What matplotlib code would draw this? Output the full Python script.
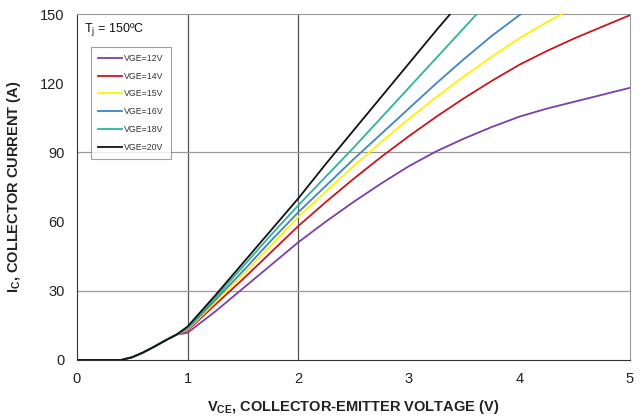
import matplotlib
matplotlib.use("Agg")
import matplotlib.pyplot as plt

plt.rcParams["font.family"] = ["Liberation Sans", "DejaVu Sans"]

# V_CE grid (V) shared by all curves
VCE = [0, 0.4, 0.5, 0.6, 0.7, 0.8, 0.9, 1.0, 1.25, 1.5, 1.75, 2.0, 2.25, 2.5,
       2.75, 3.0, 3.25, 3.5, 3.75, 4.0, 4.25, 4.5, 4.75, 5.0]
KNEE = [0, 0, 1.2, 3.3, 5.8, 8.5, 11.0]  # common part below 1 V

# collector current (A) per gate voltage, from 1.0 V on
IC_12 = [11.8, 21, 31, 41, 51, 60, 68.5, 76.5, 84, 90.5, 96, 101, 105.5, 109, 112, 115, 118]
IC_14 = [12.8, 24, 35, 46.5, 58, 68.5, 78.5, 88, 97, 105.5, 113.5, 121, 128, 134, 139.5, 144.5, 149.5]
IC_15 = [13.2, 25, 37, 49.5, 62, 73, 84, 94.5, 104.5, 114, 123, 131.5, 139.5, 146.5, 153]
IC_16 = [13.6, 26, 38.5, 51.5, 64, 75.5, 87, 98, 109, 120, 130.5, 140.5, 149.5, 158]
IC_18 = [14.0, 27, 40.5, 54, 67, 79.5, 92, 105, 118, 131, 144, 157]
IC_20 = [14.5, 28, 42, 56, 70, 85, 99.5, 114, 128.5, 143, 157]

LABELS = ["VGE=12V", "VGE=14V", "VGE=15V", "VGE=16V", "VGE=18V", "VGE=20V"]
COLORS = ["#7B3FA8", "#C8161D", "#FFF200", "#3D85C6", "#2DB39A", "#111111"]
SERIES = [IC_12, IC_14, IC_15, IC_16, IC_18, IC_20]

fig = plt.figure(figsize=(6.41, 4.18), dpi=100)
ax = fig.add_axes([0.1201, 0.1388, 0.8627, 0.8277])

# partial gridlines as in the datasheet
for xv in (1, 2):
    ax.axvline(xv, color="#555555", lw=0.9, zorder=1)
for yv in (30, 90):
    ax.axhline(yv, color="#999999", lw=0.9, zorder=1)

for ic, lab, col in zip(SERIES, LABELS, COLORS):
    y = KNEE + ic
    x = VCE[:len(y)]
    ax.plot(x, y, color=col, lw=1.3, label=lab, zorder=3)

ax.set_xlim(0, 5)
ax.set_ylim(0, 150)
ax.set_xticks([0, 1, 2, 3, 4, 5])
ax.set_yticks([0, 30, 60, 90, 120, 150])
ax.tick_params(length=0, labelsize=10.5, colors="#222222", pad=9)
for s in ("left", "bottom"):
    ax.spines[s].set_color("#333333")
for s in ("right", "top"):
    ax.spines[s].set_color("#999999")

ax.set_xlabel(r"V$_\mathregular{CE}$, COLLECTOR-EMITTER VOLTAGE (V)",
              fontsize=10.5, fontweight="bold", color="#222222", labelpad=8)
ax.set_ylabel(r"I$_\mathregular{C}$, COLLECTOR CURRENT (A)",
              fontsize=10.5, fontweight="bold", color="#222222", labelpad=12)

ax.text(0.012, 0.955, r"T$_\mathregular{j}$ = 150ºC", transform=ax.transAxes,
        fontsize=9, ha="left", va="center", color="#111111")

leg = ax.legend(loc="upper left", bbox_to_anchor=(0.025, 0.905), borderaxespad=0,
                fontsize=6.3, frameon=True, fancybox=False, handlelength=2.8,
                handletextpad=0.2, labelspacing=1.0, borderpad=0.8,
                edgecolor="#888888")
leg.get_frame().set_linewidth(0.8)
for t in leg.get_texts():
    t.set_color("#333333")

fig.savefig("out.png", dpi=100)
